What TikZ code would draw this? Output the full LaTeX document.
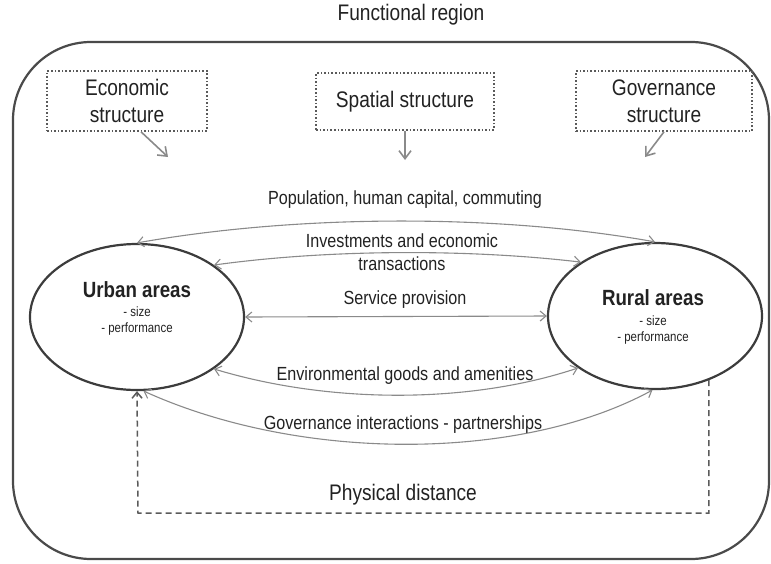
\documentclass[tikz,border=0pt]{standalone}
\usepackage{fontspec}
\setmainfont{Liberation Sans}[FakeStretch=0.85]
\usetikzlibrary{arrows.meta,shapes.geometric}
\definecolor{frame}{HTML}{4A4A4A}
\definecolor{ell}{HTML}{3C3C3C}
\definecolor{arr}{HTML}{8A8A8A}
\definecolor{dotc}{HTML}{5A5A5A}
\definecolor{txt}{HTML}{222222}
\tikzset{
  lbl/.style={text=txt,inner sep=0pt,font=\fontsize{19}{22}\selectfont,align=center},
  boxlbl/.style={text=txt,font=\fontsize{22.5}{27}\selectfont,align=center},
  area/.style={ellipse,draw=ell,line width=2.2pt,minimum width=214pt,minimum height=146pt,inner sep=0pt},
  dotbox/.style={draw=dotc,line width=1.6pt,dotted,inner sep=0pt},
  flow/.style={draw=arr,line width=1.1pt,{Straight Barb[length=6pt,width=10pt]}-{Straight Barb[length=6pt,width=10pt]}},
  pointer/.style={draw=arr,line width=1.6pt,-{Straight Barb[length=8pt,width=12pt]}},
}
\begin{document}
\begin{tikzpicture}[x=1pt,y=-1pt]
\useasboundingbox (0,0) rectangle (771,563);
% outer region
\draw[frame,line width=2.2pt,rounded corners=78pt] (13,42) rectangle (769,559);
\node[boxlbl] (fr) at (411,15) {Functional region};
% structure boxes
\node[dotbox,minimum width=160pt,minimum height=60pt] (eb) at (127,101) {};
\node[boxlbl] (et) at (eb.center) {Economic\\structure};
\node[dotbox,minimum width=178pt,minimum height=57pt] (sb) at (405,101.5) {};
\node[boxlbl] (st) at (sb.center) {Spatial structure};
\node[dotbox,minimum width=176pt,minimum height=60pt] (gb) at (664,101) {};
\node[boxlbl] (gt) at (gb.center) {Governance\\structure};
\coordinate (ea) at (168,157);
\coordinate (sa) at (405,160);
\coordinate (ga) at (645,157);
\draw[pointer] (eb.south)+(14,0) -- (ea);
\draw[pointer] (sb.south) -- (sa);
\draw[pointer] (gb.south) -- (ga);
% areas
\node[area] (U) at (137,317) {};
\node[area] (R) at (655,316) {};
\node[text=txt,font=\bfseries\fontsize{22}{26}\selectfont] (ut) at (137,290) {Urban areas};
\node[text=txt,font=\fontsize{13.5}{16}\selectfont,align=center] (us) at (137,321) {- size\\- performance};
\node[text=txt,font=\bfseries\fontsize{22}{26}\selectfont] (rt) at (653,298) {Rural areas};
\node[text=txt,font=\fontsize{13.5}{16}\selectfont,align=center] (rs) at (653,330) {- size\\- performance};
% flows
\draw[flow] (U.north) .. controls (300,214) and (500,214) .. (R.north);
\node[lbl] (l1) at (405,200) {Population, human capital, commuting};
\draw[flow] (U.34) .. controls (330,249) and (470,249) .. (R.144);
\node[lbl] (l2) at (402,252) {Investments and economic\\[1pt]transactions};
\draw[flow] (U.east) -- (R.west);
\node[lbl] (l3) at (405,300) {Service provision};
\draw[flow] (U.-34) .. controls (330,404) and (470,404) .. (R.-146);
\node[lbl] (l4) at (405,376) {Environmental goods and amenities};
\draw[flow] (U.-85) .. controls (300,462) and (520,462) .. (R.-92);
\node[lbl] (l5) at (403,425) {Governance interactions - partnerships};
% physical distance
\coordinate (dl) at (138,513);
\draw[draw=dotc,line width=1.5pt,dash pattern=on 6pt off 4pt,-{Straight Barb[length=6pt,width=10pt]}] (R.-50) |- (dl) -- (U.south);
\node[boxlbl] (pd) at (403,495) {Physical distance};
\end{tikzpicture}
\end{document}
